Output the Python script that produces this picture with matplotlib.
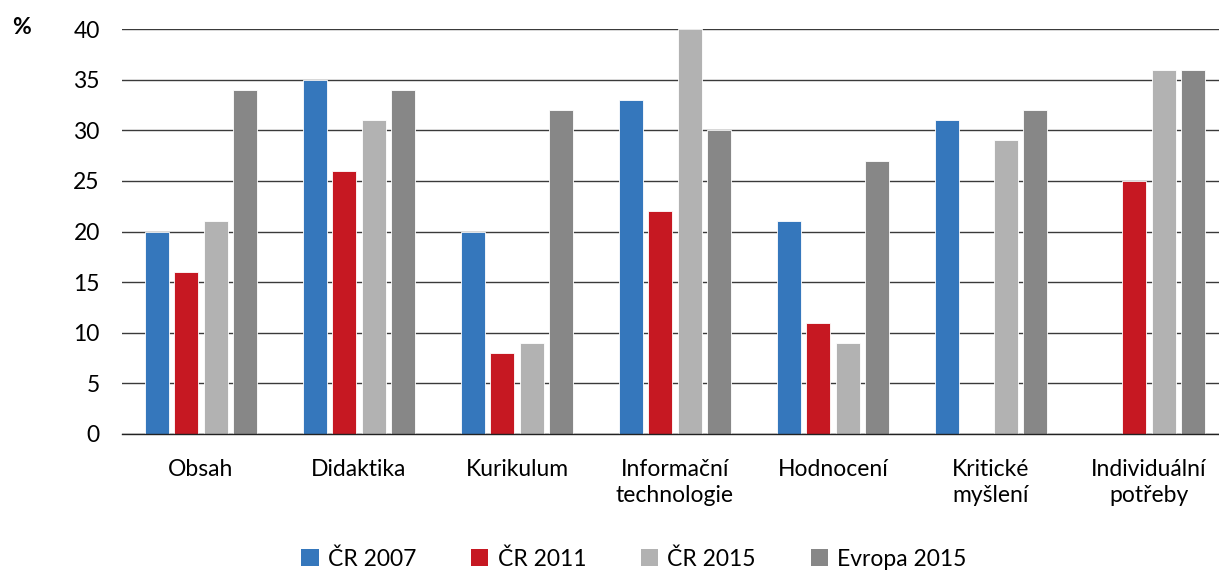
import numpy as np
import matplotlib
matplotlib.use("Agg")
import matplotlib.pyplot as plt
from matplotlib.patches import Patch

plt.rcParams['font.family'] = ['Lato', 'DejaVu Sans']

categories = ["Obsah", "Didaktika", "Kurikulum", "Informační\ntechnologie",
              "Hodnocení", "Kritické\nmyšlení", "Individuální\npotřeby"]
series_names = ["ČR 2007", "ČR 2011", "ČR 2015", "Evropa 2015"]
cr2007 = [20, 35, 20, 33, 21, 31, np.nan]
cr2011 = [16, 26, 8, 22, 11, np.nan, 25]
cr2015 = [21, 31, 9, 40, 9, 29, 36]
evropa2015 = [34, 34, 32, 30, 27, 32, 36]
colors = ["#3577BC", "#C61822", "#B2B2B2", "#878787"]
yticks = [0, 5, 10, 15, 20, 25, 30, 35, 40]

W, H = 1219, 574
fig = plt.figure(figsize=(W / 100, H / 100), dpi=100)
ax = fig.add_axes([122 / W, 1 - 434 / H, 1106 / W, (434 - 29) / H])

x = np.arange(len(categories))
step = 0.184
bw = 0.152
for i, (vals, c) in enumerate(zip([cr2007, cr2011, cr2015, evropa2015], colors)):
    ax.bar(x + (i - 1.5) * step, vals, width=bw, color=c, edgecolor="white",
           linewidth=0.6, zorder=3)

ax.set_xlim(-0.5, len(categories) - 0.5)
ax.set_ylim(0, 40)
ax.set_yticks(yticks)
ax.set_yticklabels([str(t) for t in yticks], fontsize=16.5)
ax.set_xticks(x)
ax.set_xticklabels(categories, fontsize=16.5, linespacing=1.3)
ax.tick_params(axis="both", length=0)
ax.tick_params(axis="y", pad=16)
ax.tick_params(axis="x", pad=18)
ax.grid(axis="y", color="#3a3a3a", linewidth=1.0, zorder=0)
for s in ["top", "right", "left"]:
    ax.spines[s].set_visible(False)
ax.spines["bottom"].set_color("#222222")
ax.spines["bottom"].set_linewidth(1.0)
ax.spines["bottom"].set_zorder(4)

fig.text(12 / W, 1 - 28 / H, "%", fontsize=16.5, fontweight="bold",
         ha="left", va="center")

handles = [Patch(facecolor=c, edgecolor="none") for c in colors]
fig.legend(handles, series_names, loc="center", bbox_to_anchor=(634 / W, 1 - 559 / H),
           ncol=4, frameon=False, fontsize=16.5, handlelength=0.75, handleheight=0.75,
           handletextpad=0.4, columnspacing=2.4, borderpad=0)

fig.savefig("out.png", dpi=100)
